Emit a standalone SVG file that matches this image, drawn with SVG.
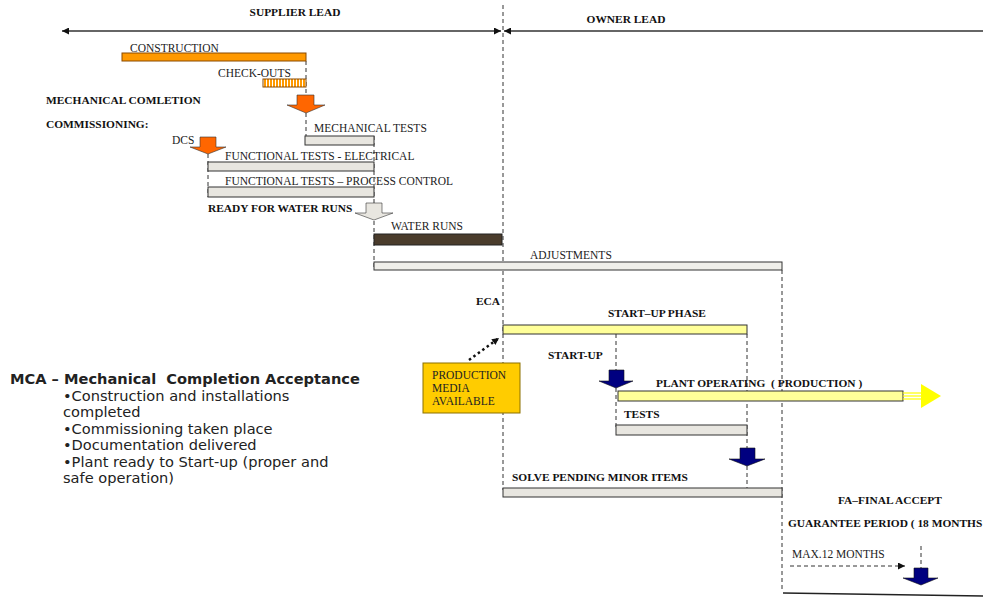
<svg xmlns="http://www.w3.org/2000/svg" width="983" height="598" viewBox="0 0 983 598">
<defs>
<style>
text{white-space:pre}
.lb{font-family:"Liberation Serif","Times New Roman",serif;font-size:11.5px;fill:#222}
.bd{font-family:"Liberation Serif","Times New Roman",serif;font-size:11.4px;font-weight:bold;fill:#111}
.vd{font-family:"DejaVu Sans",Verdana,sans-serif;font-size:14.6px;fill:#222}
.dash{stroke:#333;stroke-width:1;stroke-dasharray:4,3;fill:none}
.bar{stroke:#333;stroke-width:1}
.grey{fill:#E8E6E0}
.yel{fill:#FFFF99}
.org{fill:#FF6600;stroke:#333;stroke-width:0.6}
.navy{fill:#000080;stroke:#111;stroke-width:0.6}
</style>
<marker id="ah" viewBox="0 0 10 10" refX="10" refY="5" markerWidth="7" markerHeight="7" orient="auto-start-reverse" markerUnits="userSpaceOnUse">
<path d="M0,0 L10,5 L0,10 z" fill="#111"/>
</marker>
<pattern id="hatch" width="3" height="8" patternUnits="userSpaceOnUse">
<rect width="3" height="8" fill="#FF9900"/>
<rect x="2" width="1" height="8" fill="#FFF"/>
</pattern>
</defs>

<g id="connectors">
<line x1="62" y1="31" x2="501" y2="31" stroke="#333" stroke-width="1.3" marker-start="url(#ah)" marker-end="url(#ah)"/>
<line x1="504" y1="31" x2="983" y2="31" stroke="#333" stroke-width="1.3" marker-start="url(#ah)"/>
<line class="dash" x1="503" y1="5" x2="503" y2="490"/>
<line class="dash" x1="306" y1="61" x2="306" y2="96"/>
<line class="dash" x1="306" y1="113" x2="306" y2="136"/>
<line class="dash" x1="208" y1="154" x2="208" y2="197"/>
<line class="dash" x1="374" y1="136" x2="374" y2="204"/>
<line class="dash" x1="374" y1="221" x2="374" y2="270"/>
<line class="dash" x1="782" y1="270" x2="782" y2="590"/>
<line class="dash" x1="616" y1="334" x2="616" y2="370"/>
<line class="dash" x1="616" y1="388" x2="616" y2="430"/>
<line class="dash" x1="747" y1="334" x2="747" y2="448"/>
<line class="dash" x1="747" y1="466" x2="747" y2="488"/>
<line class="dash" x1="921" y1="546" x2="921" y2="568"/>
<line x1="469" y1="360" x2="499" y2="338" stroke="#111" stroke-width="2.5" stroke-dasharray="2.5,3" marker-end="url(#ah)"/>
<line class="dash" x1="790" y1="566" x2="905" y2="566" marker-end="url(#ah)"/>
<line x1="783" y1="593" x2="983" y2="596" stroke="#222" stroke-width="1.3"/>
</g>

<g id="header">
<text class="bd" x="295" y="16" text-anchor="middle">SUPPLIER LEAD</text>
<text class="bd" x="626" y="23" text-anchor="middle">OWNER LEAD</text>
</g>

<g id="construction">
<rect x="122" y="53" width="184" height="8" fill="#FF9900" stroke="#8A4A00" stroke-width="1"/>
<text class="lb" x="130" y="52">CONSTRUCTION</text>
</g>
<g id="checkouts">
<rect x="263" y="79" width="43" height="8" fill="url(#hatch)" stroke="#8A4A00" stroke-width="1"/>
<text class="lb" x="218" y="77">CHECK-OUTS</text>
</g>
<g id="mc-arrow">
<polygon class="org" points="297,95 314,95 314,105 325,105 306,113 287,105 297,105"/>
<text class="bd" x="46" y="104">MECHANICAL COMLETION</text>
<text class="bd" x="46" y="128" font-size="10.5">COMMISSIONING:</text>
</g>
<g id="mech-tests">
<rect class="bar grey" x="305" y="136" width="69" height="9"/>
<text class="lb" x="314" y="132">MECHANICAL TESTS</text>
</g>
<g id="dcs">
<polygon class="org" points="200,137 216,137 216,147 226,147 208,154 190,147 200,147"/>
<text class="lb" x="172" y="144">DCS</text>
</g>
<g id="ft-elec">
<rect class="bar grey" x="208" y="162" width="166" height="9"/>
<text class="lb" x="225" y="160">FUNCTIONAL TESTS - ELECTRICAL</text>
</g>
<g id="ft-proc">
<rect class="bar grey" x="208" y="187" width="166" height="10"/>
<text class="lb" x="225" y="185">FUNCTIONAL TESTS – PROCESS CONTROL</text>
</g>
<g id="ready">
<polygon points="366,203 382,203 382,213 393,213 374,220 355,213 366,213" fill="#E8E6E0" stroke="#333" stroke-width="0.6"/>
<text class="bd" x="208" y="212">READY FOR WATER RUNS</text>
</g>
<g id="water-runs">
<rect x="374" y="234" width="128" height="11" fill="#4A3C2C" stroke="#222" stroke-width="1"/>
<text class="lb" x="391" y="230">WATER RUNS</text>
</g>
<g id="adjustments">
<rect class="bar" x="374" y="262" width="408" height="8" fill="#F0EFEA"/>
<text class="lb" x="530" y="259">ADJUSTMENTS</text>
</g>
<g id="eca">
<text class="bd" x="476" y="305">ECA</text>
</g>
<g id="startup-phase">
<rect class="bar yel" x="503" y="325" width="244" height="9"/>
<text class="bd" x="608" y="317">START–UP PHASE</text>
</g>
<g id="production-media">
<rect x="423" y="363" width="97" height="50" fill="#FFCC00" stroke="#8B7000" stroke-width="1"/>
<text class="lb" x="432" y="379">PRODUCTION</text>
<text class="lb" x="432" y="392">MEDIA</text>
<text class="lb" x="432" y="405">AVAILABLE</text>
</g>
<g id="startup">
<text class="bd" x="548" y="359">START-UP</text>
<polygon class="navy" points="609,370 624,370 624,381 633,381 616,388 599,381 609,381"/>
</g>
<g id="plant-operating">
<rect class="bar yel" x="618" y="391" width="285" height="10"/>
<text class="bd" x="656" y="387">PLANT OPERATING  ( PRODUCTION )</text>
<line x1="903" y1="393" x2="922" y2="393" stroke="#FFFF00" stroke-width="1.2"/>
<line x1="903" y1="396" x2="922" y2="396" stroke="#FFFF00" stroke-width="1.2"/>
<line x1="903" y1="399" x2="922" y2="399" stroke="#FFFF00" stroke-width="1.2"/>
<polygon points="921,384 941,396 921,408" fill="#FFFF00"/>
</g>
<g id="tests">
<rect class="bar grey" x="616" y="425" width="131" height="10"/>
<text class="bd" x="624" y="418">TESTS</text>
</g>
<g id="tests-end">
<polygon class="navy" points="740,448 755,448 755,459 765,459 747,466 729,459 740,459"/>
</g>
<g id="solve-pending">
<rect class="bar grey" x="503" y="488" width="279" height="9"/>
<text class="bd" x="512" y="481">SOLVE PENDING MINOR ITEMS</text>
</g>
<g id="final-accept">
<text class="bd" x="838" y="504">FA–FINAL ACCEPT</text>
<text class="bd" x="788" y="527">GUARANTEE PERIOD ( 18 MONTHS</text>
<text class="lb" x="792" y="558">MAX.12 MONTHS</text>
<polygon class="navy" points="914,568 928,568 928,578 938,578 921,585 903,578 914,578"/>
</g>
<g id="mca">
<text class="vd" x="10" y="384" font-weight="bold">MCA – Mechanical  Completion Acceptance</text>
<text class="vd" x="63" y="401">•Construction and installations</text>
<text class="vd" x="63" y="417">completed</text>
<text class="vd" x="63" y="434">•Commissioning taken place</text>
<text class="vd" x="63" y="450">•Documentation delivered</text>
<text class="vd" x="63" y="467">•Plant ready to Start-up (proper and</text>
<text class="vd" x="63" y="483">safe operation)</text>
</g>
</svg>
